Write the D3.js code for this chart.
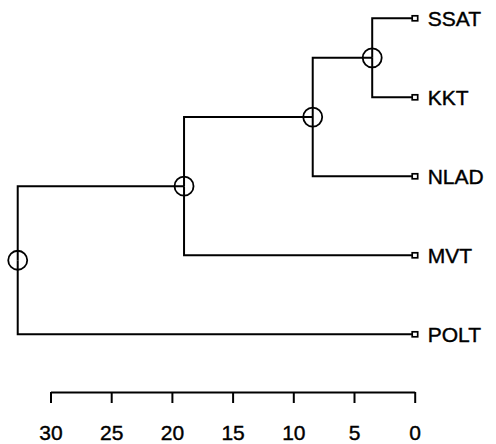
<!DOCTYPE html>
<html>
<head>
<meta charset="utf-8">
<script src="https://cdn.jsdelivr.net/npm/d3@7.9.0/dist/d3.min.js"></script>
<style>
  body { margin: 0; background: #fff; }
  svg text { font-family: "Liberation Sans", Arial, Helvetica, sans-serif; fill: #000; stroke: #000; stroke-width: 0.4px; }
</style>
</head>
<body>
<svg width="496" height="444"></svg>
<script>
// tips top to bottom
const tips = ['SSAT', 'KKT', 'NLAD', 'MVT', 'POLT'];
// internal nodes: ages and the two children joined at each
const nodeNames = ['n1', 'n2', 'n3', 'root'];
const nodeAges = [3.5, 8.4, 19.0, 32.7];
const leftChild = ['SSAT', 'n1', 'n2', 'n3'];
const rightChild = ['KKT', 'NLAD', 'MVT', 'POLT'];
const axisTicks = [30, 25, 20, 15, 10, 5, 0];

const svg = d3.select('svg');

const x = d3.scaleLinear().domain([30, 0]).range([50.5, 414.7]);
const y = d3.scalePoint().domain(tips).range([18.3, 334.3]);

// positions of every node
const pos = {};
tips.forEach(t => { pos[t] = { x: x(0), y: y(t) }; });
nodeNames.forEach((n, i) => {
  const a = pos[leftChild[i]], b = pos[rightChild[i]];
  pos[n] = { x: x(nodeAges[i]), y: (a.y + b.y) / 2 };
});

const g = svg.append('g');

// elbow branches
nodeNames.forEach((n, i) => {
  const p = pos[n];
  [leftChild[i], rightChild[i]].forEach(c => {
    const q = pos[c];
    g.append('path')
      .attr('d', `M${p.x},${p.y}V${q.y}H${q.x}`)
      .attr('fill', 'none')
      .attr('stroke', '#000')
      .attr('stroke-width', 2);
  });
});

// open circles at internal nodes
g.selectAll('circle')
  .data(nodeNames)
  .join('circle')
  .attr('cx', d => pos[d].x)
  .attr('cy', d => pos[d].y)
  .attr('r', 9.5)
  .attr('fill', 'none')
  .attr('stroke', '#000')
  .attr('stroke-width', 1.8);

// small squares at tips
g.selectAll('rect.tip')
  .data(tips)
  .join('rect')
  .attr('class', 'tip')
  .attr('x', d => pos[d].x - 2.5)
  .attr('y', d => pos[d].y - 2.5)
  .attr('width', 5.5)
  .attr('height', 5)
  .attr('fill', '#fff')
  .attr('stroke', '#000')
  .attr('stroke-width', 1.7);

// tip labels
g.selectAll('text.lab')
  .data(tips)
  .join('text')
  .attr('class', 'lab')
  .attr('x', d => pos[d].x + 13)
  .attr('y', d => pos[d].y)
  .attr('dy', '0.36em')
  .attr('font-size', 21)
  .text(d => d);

// time axis
const axis = d3.axisBottom(x)
  .tickValues(axisTicks)
  .tickSize(11)
  .tickSizeOuter(0)
  .tickPadding(22)
  .tickFormat(d3.format('d'));

const ax = svg.append('g')
  .attr('transform', 'translate(0,392)')
  .call(axis);
ax.select('.domain').attr('stroke', '#000').attr('stroke-width', 2);
ax.selectAll('.tick line').attr('stroke', '#000').attr('stroke-width', 2);
ax.selectAll('.tick text')
  .attr('font-size', 21)
  .attr('font-family', '"Liberation Sans", Arial, Helvetica, sans-serif')
  .attr('fill', '#000');
</script>
</body>
</html>
